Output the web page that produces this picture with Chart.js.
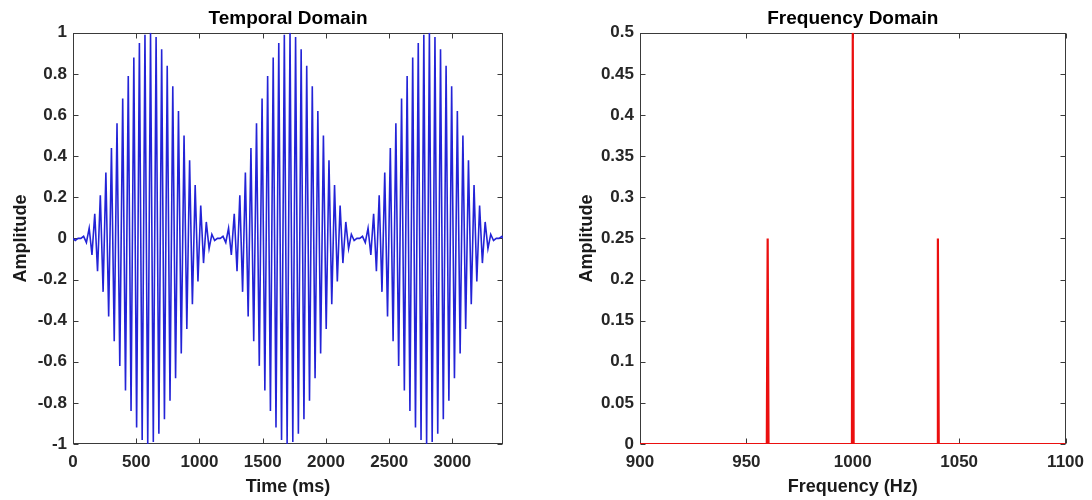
<!DOCTYPE html>
<html>
<head>
<meta charset="utf-8">
<script src="https://cdn.jsdelivr.net/npm/chart.js@4.4.0/dist/chart.umd.min.js"></script>
<style>
  body { margin: 0; background: #fff; }
  #wrap { position: relative; width: 1092px; height: 500px; }
  canvas { position: absolute; top: 0; }
</style>
</head>
<body>
<div id="wrap">
  <canvas id="temporal" width="546" height="500" style="left:0"></canvas>
  <canvas id="frequency" width="546" height="500" style="left:546px"></canvas>
</div>
<script>
// wave extrema (time in samples labelled ms, amplitude)
const waveTimes = [
  0, 18, 40,
  // lobe 1
  62, 84, 106, 128, 150, 172, 194, 216, 238, 260,
  282, 304, 326, 348, 370, 393, 415, 437, 459, 481,
  503, 525, 547, 569, 591, 613, 635, 657, 679, 701,
  723, 745, 767, 789, 811, 834, 856, 878, 900, 922,
  944, 966, 988, 1010, 1032, 1054, 1076, 1098, 1120, 1142,
  // lobe 2
  1164, 1186, 1208, 1230, 1252, 1275, 1297, 1319, 1341, 1363,
  1385, 1407, 1429, 1451, 1473, 1495, 1517, 1539, 1561, 1583,
  1605, 1627, 1649, 1671, 1693, 1716, 1738, 1760, 1782, 1804,
  1826, 1848, 1870, 1892, 1914, 1936, 1958, 1980, 2002, 2024,
  2046, 2068, 2090, 2112, 2134, 2157, 2179, 2201, 2223, 2245,
  // lobe 3
  2267, 2289, 2311, 2333, 2355, 2377, 2399, 2421, 2443, 2465,
  2487, 2509, 2531, 2553, 2575, 2598, 2620, 2642, 2664, 2686,
  2708, 2730, 2752, 2774, 2796, 2818, 2840, 2862, 2884, 2906,
  2928, 2950, 2972, 2994, 3016, 3039, 3061, 3083, 3105, 3127,
  3149, 3171, 3193, 3215, 3237, 3259, 3281, 3303, 3325, 3347,
  3369, 3391, 3400
];
const waveValues = [
  0, -0.01, 0,
  // lobe 1
  0, 0.01, -0.02, 0.05, -0.08, 0.12, -0.16, 0.21, -0.26, 0.32,
  -0.38, 0.44, -0.50, 0.56, -0.62, 0.68, -0.74, 0.79, -0.84, 0.88,
  -0.92, 0.95, -0.98, 0.99, -1.00, 1.00, -0.99, 0.98, -0.95, 0.92,
  -0.88, 0.84, -0.79, 0.74, -0.68, 0.62, -0.56, 0.50, -0.44, 0.38,
  -0.32, 0.26, -0.21, 0.16, -0.12, 0.08, -0.05, 0.02, -0.01, 0,
  // lobe 2
  0, 0.01, -0.02, 0.05, -0.08, 0.12, -0.16, 0.21, -0.26, 0.32,
  -0.38, 0.44, -0.50, 0.56, -0.62, 0.68, -0.74, 0.79, -0.84, 0.88,
  -0.92, 0.95, -0.98, 0.99, -1.00, 1.00, -0.99, 0.98, -0.95, 0.92,
  -0.88, 0.84, -0.79, 0.74, -0.68, 0.62, -0.56, 0.50, -0.44, 0.38,
  -0.32, 0.26, -0.21, 0.16, -0.12, 0.08, -0.05, 0.02, -0.01, 0,
  // lobe 3
  0, 0.01, -0.02, 0.05, -0.08, 0.12, -0.16, 0.21, -0.26, 0.32,
  -0.38, 0.44, -0.50, 0.56, -0.62, 0.68, -0.74, 0.79, -0.84, 0.88,
  -0.92, 0.95, -0.98, 0.99, -1.00, 1.00, -0.99, 0.98, -0.95, 0.92,
  -0.88, 0.84, -0.79, 0.74, -0.68, 0.62, -0.56, 0.50, -0.44, 0.38,
  -0.32, 0.26, -0.21, 0.16, -0.12, 0.08, -0.05, 0.02, -0.01, 0,
  0, 0.01, 0
];

// spectrum: three spikes at 960, 1000 and 1040 Hz
const spectrumFreqs = [900, 959.6, 960, 960.4, 999.6, 1000, 1000.4, 1039.6, 1040, 1040.4, 1100];
const spectrumAmps  = [0, 0, 0.25, 0, 0, 0.5, 0, 0, 0.25, 0, 0];

const timeTicks = [0, 500, 1000, 1500, 2000, 2500, 3000];
const freqTicks = [900, 950, 1000, 1050, 1100];

Chart.defaults.font.family = '"Liberation Sans", Arial, sans-serif';
Chart.defaults.animation = false;

const axisColor = '#262626';
const tickFont = { size: 17, weight: 'bold' };
const labelFont = { size: 18, weight: 'bold' };
const titleFont = { size: 19, weight: 'bold' };
const fmt = v => String(+Number(v).toFixed(2));

// matlab style box with ticks pointing inwards
const boxTicks = {
  id: 'boxTicks',
  beforeDatasetsDraw(chart) {
    const { ctx, chartArea: a, scales } = chart;
    const l = Math.round(a.left) + 0.5, r = Math.round(a.right) - 0.5;
    const t = Math.round(a.top) + 0.5, b = Math.round(a.bottom) - 0.5;
    const len = 5;
    ctx.save();
    ctx.strokeStyle = '#3a3a3a';
    ctx.lineWidth = 1;
    ctx.strokeRect(l, t, r - l, b - t);
    ctx.beginPath();
    scales.x.ticks.forEach(tk => {
      const px = Math.round(scales.x.getPixelForValue(tk.value)) + 0.5;
      ctx.moveTo(px, b); ctx.lineTo(px, b - len);
      ctx.moveTo(px, t); ctx.lineTo(px, t + len);
    });
    scales.y.ticks.forEach(tk => {
      const py = Math.round(scales.y.getPixelForValue(tk.value)) + 0.5;
      ctx.moveTo(l, py); ctx.lineTo(l + len, py);
      ctx.moveTo(r, py); ctx.lineTo(r - len, py);
    });
    ctx.stroke();
    ctx.restore();
  }
};

function buildOptions(cfg) {
  return {
    responsive: false,
    layout: { padding: { left: 0, right: cfg.padRight, top: 0, bottom: 0 } },
    plugins: {
      legend: { display: false },
      tooltip: { enabled: false },
      title: {
        display: true,
        text: cfg.title,
        fullSize: false,
        color: '#000',
        font: titleFont,
        padding: { top: 7, bottom: 3 }
      }
    },
    scales: {
      x: {
        type: 'linear',
        min: cfg.xMin,
        max: cfg.xMax,
        grid: { display: false, drawTicks: false },
        border: { display: false },
        afterBuildTicks: s => { s.ticks = cfg.xTicks.map(v => ({ value: v })); },
        ticks: { padding: 8, maxRotation: 0, autoSkip: false, font: tickFont, color: axisColor, callback: v => String(v) },
        title: { display: true, text: cfg.xLabel, color: '#1a1a1a', font: labelFont, padding: { top: 0, bottom: 2 } },
        afterFit: s => { s.height = 56; }
      },
      y: {
        min: cfg.yMin,
        max: cfg.yMax,
        grid: { display: false, drawTicks: false },
        border: { display: false },
        ticks: { stepSize: cfg.yStep, padding: 6, autoSkip: false, font: tickFont, color: axisColor, callback: fmt },
        title: { display: true, text: 'Amplitude', color: '#1a1a1a', font: labelFont, padding: { top: cfg.yTitlePad, bottom: 0 } },
        afterFit: s => { s.width = cfg.yWidth; }
      }
    }
  };
}

new Chart(document.getElementById('temporal'), {
  type: 'line',
  data: {
    datasets: [{
      data: waveTimes.map((t, i) => ({ x: t, y: waveValues[i] })),
      borderColor: 'rgb(35, 35, 215)',
      borderWidth: 1.6,
      pointRadius: 0,
      tension: 0,
      fill: false
    }]
  },
  options: buildOptions({
    title: 'Temporal Domain', xLabel: 'Time (ms)',
    xMin: 0, xMax: 3400, xTicks: timeTicks,
    yMin: -1, yMax: 1, yStep: 0.2,
    yWidth: 73, yTitlePad: 10, padRight: 43
  }),
  plugins: [boxTicks]
});

new Chart(document.getElementById('frequency'), {
  type: 'line',
  data: {
    datasets: [{
      data: spectrumFreqs.map((f, i) => ({ x: f, y: spectrumAmps[i] })),
      borderColor: 'rgb(235, 15, 15)',
      borderWidth: 2.2,
      pointRadius: 0,
      tension: 0,
      fill: false
    }]
  },
  options: buildOptions({
    title: 'Frequency Domain', xLabel: 'Frequency (Hz)',
    xMin: 900, xMax: 1100, xTicks: freqTicks,
    yMin: 0, yMax: 0.5, yStep: 0.05,
    yWidth: 94, yTitlePad: 30, padRight: 24
  }),
  plugins: [boxTicks]
});
</script>
</body>
</html>
